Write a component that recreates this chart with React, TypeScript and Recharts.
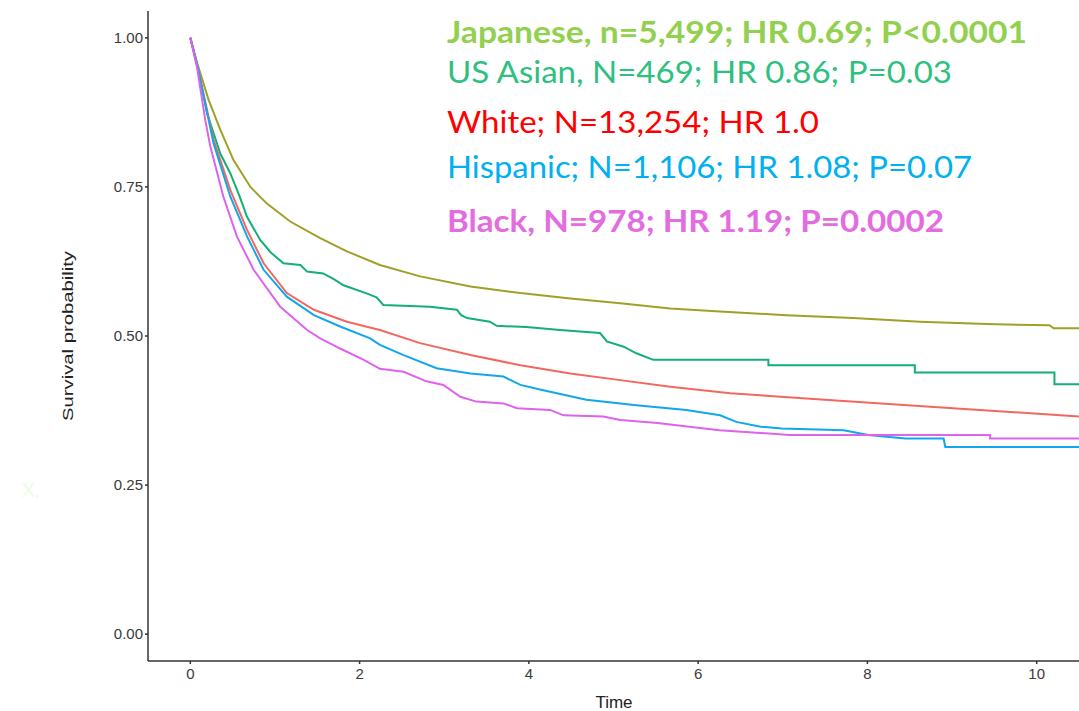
import { LineChart, Line, XAxis, YAxis } from "recharts";

// Kaplan-Meier survival by ethnicity
const japaneseTime = [0, 0.08, 0.216, 0.354, 0.51, 0.71, 0.905, 1.18, 1.535, 1.85, 2.24, 2.715, 3.31, 3.9, 4.49, 5.08, 5.67, 6.26, 7.04, 7.83, 8.62, 9.41, 10.15, 10.2, 10.5];
const japaneseSurv = [1, 0.958, 0.896, 0.846, 0.795, 0.75, 0.722, 0.692, 0.664, 0.642, 0.619, 0.6, 0.583, 0.572, 0.563, 0.555, 0.546, 0.541, 0.535, 0.53, 0.524, 0.52, 0.518, 0.513, 0.513];

const asianTime = [0, 0.08, 0.197, 0.354, 0.472, 0.58, 0.67, 0.75, 0.826, 0.95, 1.1, 1.3, 1.38, 1.57, 1.7, 1.81, 2.09, 2.2, 2.28, 2.83, 3.15, 3.2, 3.27, 3.54, 3.62, 3.97, 4.37, 4.84, 4.9, 4.92, 5.12, 5.27, 5.47, 6.83, 6.83, 8.56, 8.56, 10.21, 10.21, 10.5];
const asianSurv = [1, 0.955, 0.874, 0.806, 0.773, 0.735, 0.7, 0.68, 0.661, 0.64, 0.622, 0.619, 0.608, 0.605, 0.595, 0.585, 0.571, 0.565, 0.552, 0.549, 0.544, 0.535, 0.53, 0.524, 0.517, 0.515, 0.51, 0.505, 0.495, 0.491, 0.482, 0.471, 0.46, 0.46, 0.451, 0.451, 0.439, 0.439, 0.419, 0.419];

const whiteTime = [0, 0.08, 0.275, 0.472, 0.67, 0.866, 1.14, 1.46, 1.85, 2.24, 2.715, 3.31, 3.9, 4.49, 5.08, 5.67, 6.38, 7.63, 9.01, 10.5];
const whiteSurv = [1, 0.955, 0.829, 0.745, 0.678, 0.622, 0.572, 0.544, 0.524, 0.51, 0.488, 0.468, 0.451, 0.437, 0.426, 0.415, 0.404, 0.392, 0.379, 0.365];

const hispanicTime = [0, 0.08, 0.275, 0.472, 0.67, 0.866, 1.14, 1.46, 1.77, 2.125, 2.24, 2.52, 2.91, 3.31, 3.7, 3.9, 4.17, 4.68, 5.27, 5.86, 6.26, 6.45, 6.74, 6.99, 7.72, 8.01, 8.45, 8.9, 8.92, 10.5];
const hispanicSurv = [1, 0.955, 0.823, 0.734, 0.667, 0.611, 0.566, 0.535, 0.516, 0.496, 0.485, 0.468, 0.446, 0.437, 0.432, 0.418, 0.409, 0.393, 0.384, 0.376, 0.367, 0.356, 0.348, 0.345, 0.342, 0.334, 0.328, 0.328, 0.314, 0.314];

const blackTime = [0, 0.08, 0.177, 0.236, 0.39, 0.55, 0.748, 1.063, 1.38, 1.535, 1.77, 2.05, 2.24, 2.52, 2.79, 2.99, 3.19, 3.38, 3.7, 3.86, 4.25, 4.41, 4.88, 5.08, 5.52, 6.25, 7.08, 9.45, 9.45, 10.5];
const blackSurv = [1, 0.95, 0.862, 0.818, 0.734, 0.667, 0.611, 0.549, 0.51, 0.496, 0.479, 0.46, 0.445, 0.44, 0.424, 0.418, 0.398, 0.39, 0.387, 0.379, 0.376, 0.367, 0.365, 0.359, 0.354, 0.342, 0.334, 0.334, 0.328, 0.328];

const xTicks = [0, 2, 4, 6, 8, 10];
const yTicks = [0, 0.25, 0.5, 0.75, 1];

const legendLines = [
  { text: "Japanese, n=5,499; HR 0.69; P<0.0001", color: "#92d050", bold: true, y: 43, w: 580 },
  { text: "US Asian, N=469; HR 0.86; P=0.03", color: "#2fbf80", bold: false, y: 83, w: 505 },
  { text: "White; N=13,254; HR 1.0", color: "#ff0000", bold: false, y: 133, w: 372 },
  { text: "Hispanic; N=1,106; HR 1.08; P=0.07", color: "#00b0f0", bold: false, y: 178, w: 525 },
  { text: "Black, N=978; HR 1.19; P=0.0002", color: "#e36ce0", bold: true, y: 232, w: 497 },
];

const toRows = (ts: number[], vs: number[]) => ts.map((t, i) => ({ t, s: vs[i] }));

const series = [
  { name: "Japanese", data: toRows(japaneseTime, japaneseSurv), color: "#a0a028" },
  { name: "US Asian", data: toRows(asianTime, asianSurv), color: "#12b074" },
  { name: "White", data: toRows(whiteTime, whiteSurv), color: "#f2685f" },
  { name: "Hispanic", data: toRows(hispanicTime, hispanicSurv), color: "#12a6ea" },
  { name: "Black", data: toRows(blackTime, blackSurv), color: "#de62ee" },
];

const tickFont = { fill: "#3a3a3a", fontSize: 15, fontFamily: "'Liberation Sans', Arial, sans-serif" };

export default function App() {
  return (
    <div style={{ position: "absolute", left: 0, top: 0, width: 1079, height: 711, background: "#fff" }}>
      <LineChart width={1079} height={711} margin={{ top: 11, right: 0, bottom: 0, left: 0 }}>
        <XAxis
          type="number"
          dataKey="t"
          domain={[-0.5, 10.5]}
          allowDataOverflow
          ticks={xTicks}
          tickSize={3}
          tickMargin={4}
          height={50}
          stroke="#333"
          strokeWidth={1.5}
          tick={tickFont}
        />
        <YAxis
          type="number"
          dataKey="s"
          domain={[-0.045, 1.045]}
          allowDataOverflow
          ticks={yTicks}
          tickFormatter={(v: number) => v.toFixed(2)}
          tickSize={3}
          tickMargin={2}
          width={148}
          stroke="#333"
          strokeWidth={1.5}
          tick={tickFont}
        />
        {series.map((s) => (
          <Line
            key={s.name}
            data={s.data}
            dataKey="s"
            type="linear"
            stroke={s.color}
            strokeWidth={2}
            dot={false}
            isAnimationActive={false}
          />
        ))}
      </LineChart>
      <svg width={1079} height={711} style={{ position: "absolute", left: 0, top: 0, pointerEvents: "none" }}>
        <text
          x={0}
          y={0}
          transform="translate(73,336) rotate(-90)"
          textAnchor="middle"
          textLength={170}
          lengthAdjust="spacingAndGlyphs"
          fontSize={15}
          fontFamily="'Liberation Sans', Arial, sans-serif"
          fill="#222"
        >
          Survival probability
        </text>
        <text x={614} y={708} textAnchor="middle" fontSize={17} fontFamily="'Liberation Sans', Arial, sans-serif" fill="#222">
          Time
        </text>
        <text x={22} y={497} fontSize={20} fontFamily="Lato, sans-serif" fill="#eefbe6">
          X,
        </text>
        {legendLines.map((l) => (
          <text
            key={l.text}
            x={447}
            y={l.y}
            fontSize={31}
            fontWeight={l.bold ? 700 : 400}
            fontFamily="Lato, 'Open Sans', sans-serif"
            fill={l.color}
            textLength={l.w}
            lengthAdjust="spacingAndGlyphs"
          >
            {l.text}
          </text>
        ))}
      </svg>
    </div>
  );
}
